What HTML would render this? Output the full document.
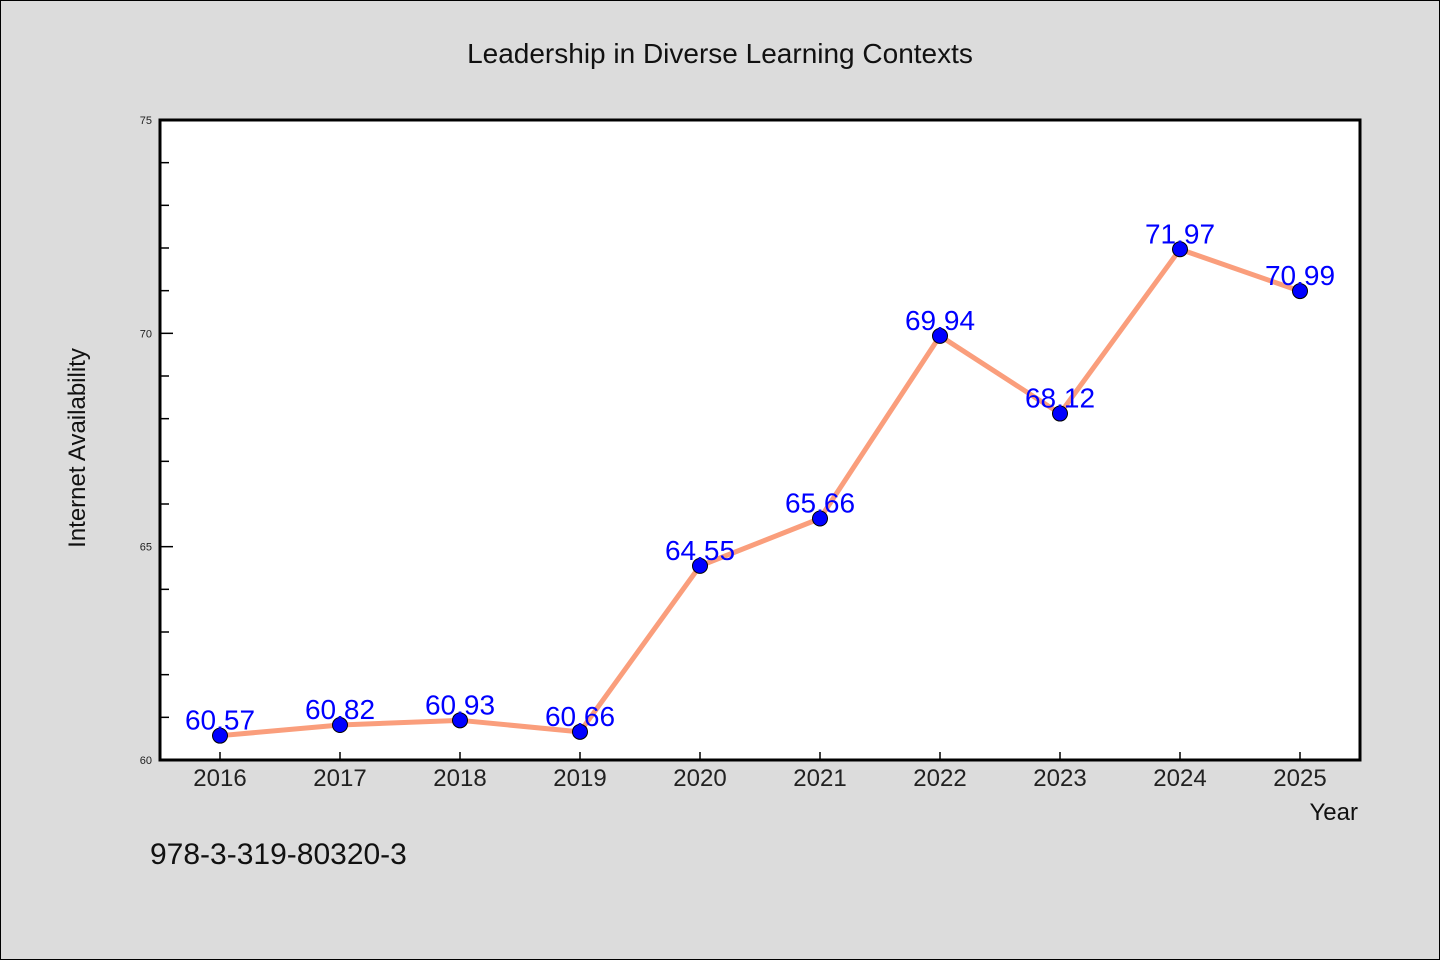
<!DOCTYPE html>
<html><head><meta charset="utf-8"><style>
html,body{margin:0;padding:0;background:#dcdcdc;}
svg{display:block;font-family:"WenQuanYi Zen Hei","Liberation Sans",sans-serif;}
</style></head><body>
<svg id="chart" width="1440" height="960">
<rect x="0.5" y="0.5" width="1439" height="959" fill="#dcdcdc" stroke="#000" stroke-width="1"/>
<text x="720" y="63" text-anchor="middle" font-size="28" fill="#111">Leadership in Diverse Learning Contexts</text>
<rect x="160" y="120" width="1200" height="640" fill="#fff"/>
<g id="ticks"></g>
<g id="series"></g>
<rect x="160" y="120" width="1200" height="640" fill="none" stroke="#000" stroke-width="3"/>
<text transform="translate(85,448) rotate(-90)" text-anchor="middle" font-size="24" fill="#111">Internet Availability</text>
<text x="1358" y="820" text-anchor="end" font-size="24" fill="#111">Year</text>
<text x="150" y="864" font-size="30" fill="#111">978-3-319-80320-3</text>
</svg>
<script>
const years=[2016,2017,2018,2019,2020,2021,2022,2023,2024,2025];
const values=[60.57,60.82,60.93,60.66,64.55,65.66,69.94,68.12,71.97,70.99];
const yTicks=[60,65,70,75];
const yMin=60,yMax=75;
const NS="http://www.w3.org/2000/svg";
function xs(i){return 220+i*120;}
function ys(v){return 760-(v-yMin)/(yMax-yMin)*640;}
function mk(tag,attrs,parent){const e=document.createElementNS(NS,tag);for(const k in attrs)e.setAttribute(k,attrs[k]);parent.appendChild(e);return e;}
const tg=document.getElementById('ticks'),sg=document.getElementById('series');
for(let v=yMin;v<=yMax;v++){
  const major=yTicks.includes(v);
  const l=mk('line',{x1:160,x2:160+(major?13:9),y1:ys(v),y2:ys(v),stroke:'#000','stroke-width':1.5},tg);
  
  
}
yTicks.forEach(v=>{
  const t=mk('text',{x:152,y:ys(v)+4,'text-anchor':'end','font-size':11,fill:'#222'},tg);
  t.textContent=v;
  
  
});
years.forEach((y,i)=>{
  const l=mk('line',{x1:xs(i),x2:xs(i),y1:760,y2:752,stroke:'#000','stroke-width':1.5},tg);
  
  
  const t=mk('text',{x:xs(i),y:786,'text-anchor':'middle','font-size':24,fill:'#222'},tg);
  t.textContent=y;
  
  
});
const pl=mk('polyline',{points:values.map((v,i)=>xs(i)+','+ys(v)).join(' '),fill:'none',stroke:'#fa9e7c','stroke-width':5,'stroke-linejoin':'round'},sg);


values.forEach((v,i)=>{
  const c=mk('circle',{cx:xs(i),cy:ys(v),r:7.5,fill:'#0000ff',stroke:'#000','stroke-width':1},sg);
  
  
});
values.forEach((v,i)=>{
  const t=mk('text',{x:xs(i),y:ys(v)-6,'text-anchor':'middle','font-size':28,fill:'#0000ff'},sg);
  t.textContent=v.toFixed(2);
  
  
});
</script>
</body></html>
